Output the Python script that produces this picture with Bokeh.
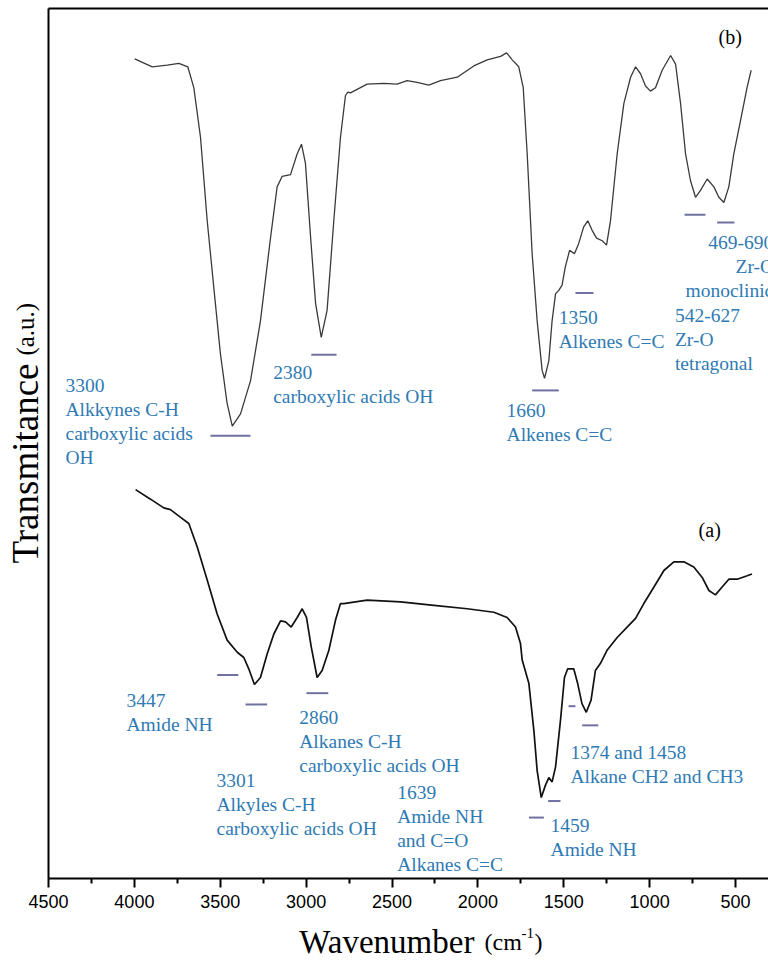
import math
from bokeh.plotting import figure
from bokeh.models import Range1d, FixedTicker, LinearAxis, ColumnDataSource
from bokeh.core.properties import value
from bokeh.embed import file_html
from bokeh.resources import INLINE

# FTIR spectrum (b): wavenumber (cm-1) and transmittance (a.u.)
wn_b = [3998, 3896, 3809, 3741, 3689, 3654, 3615, 3576, 3538, 3499, 3460, 3430,
        3382, 3324, 3266, 3207, 3169, 3140, 3091, 3052, 3027, 3004, 2974, 2945,
        2912, 2878, 2839, 2800, 2771, 2757, 2742, 2645, 2548, 2470, 2412, 2354,
        2286, 2218, 2120, 2024, 1946, 1868, 1833, 1800, 1762, 1736, 1713, 1684,
        1655, 1626, 1612, 1587, 1568, 1548, 1529, 1510, 1491, 1466, 1438, 1413,
        1384, 1360, 1335, 1309, 1276, 1251, 1228, 1189, 1150, 1111, 1082, 1053,
        1024, 995, 966, 927, 878, 849, 820, 791, 762, 733, 704, 665, 626, 597,
        568, 539, 510, 471, 432, 409]
tr_b = [94.2, 93.3, 93.5, 93.7, 93.3, 90.9, 85.2, 75.6, 68.0, 60.3, 54.6, 52.0,
        53.4, 57.2, 64.1, 73.7, 79.5, 80.7, 80.9, 83.3, 84.4, 82.2, 73.7, 66.1,
        62.2, 65.3, 75.6, 85.2, 90.0, 90.4, 90.3, 91.3, 91.4, 91.3, 91.7, 91.5,
        91.2, 91.7, 92.1, 93.4, 94.1, 94.5, 94.9, 94.1, 93.3, 90.9, 83.3, 71.8,
        64.1, 58.4, 57.5, 59.5, 64.1, 67.2, 67.6, 68.2, 70.3, 72.2, 71.8, 73.0,
        74.9, 75.6, 74.5, 73.6, 73.3, 72.8, 75.6, 83.3, 89.1, 92.1, 93.3, 92.5,
        91.1, 90.5, 90.9, 92.9, 94.6, 93.6, 89.1, 83.3, 80.2, 78.3, 79.1, 80.4,
        79.5, 78.3, 77.7, 79.5, 83.3, 87.1, 91.0, 92.9]

# FTIR spectrum (a)
wn_a = [3993, 3906, 3829, 3790, 3731, 3683, 3634, 3576, 3518, 3460, 3401, 3363,
        3334, 3301, 3266, 3227, 3188, 3149, 3120, 3087, 3052, 3023, 2998, 2970,
        2936, 2907, 2868, 2829, 2800, 2781, 2645, 2450, 2256, 2062, 1907, 1830,
        1781, 1752, 1742, 1703, 1674, 1655, 1631, 1607, 1587, 1568, 1548, 1519,
        1496, 1477, 1442, 1419, 1394, 1369, 1341, 1316, 1287, 1249, 1189, 1131,
        1082, 1034, 975, 917, 859, 801, 743, 694, 655, 617, 578, 539, 490, 432, 404]
tr_a = [44.7, 43.6, 42.6, 42.4, 41.5, 40.8, 38.1, 34.3, 30.4, 27.4, 26.0, 25.4,
        24.1, 22.3, 23.1, 25.8, 28.1, 29.6, 29.5, 28.9, 30.0, 31.0, 30.0, 26.6,
        23.1, 23.9, 26.2, 29.7, 31.6, 31.6, 32.0, 31.8, 31.4, 31.0, 30.6, 30.0,
        28.9, 27.0, 25.1, 22.4, 17.0, 12.4, 9.3, 10.7, 11.6, 11.1, 12.8, 18.2,
        23.1, 24.1, 24.1, 22.4, 20.1, 19.1, 20.5, 23.9, 24.7, 26.2, 27.7, 28.9,
        29.9, 31.6, 33.5, 35.4, 36.4, 36.4, 35.8, 34.6, 33.1, 32.6, 33.5, 34.4,
        34.4, 34.8, 35.0]

# band markers: (start wavenumber, end wavenumber, level)
marks_b = [(3557, 3324, 50.9), (2970, 2823, 60.2), (1684, 1529, 56.1),
           (1432, 1327, 67.3), (797, 675, 76.3), (607, 506, 75.4)]
marks_a = [(3518, 3395, 23.4), (3353, 3227, 20.0), (2998, 2871, 21.3),
           (1472, 1432, 19.8), (1393, 1299, 17.6), (1591, 1519, 8.9),
           (1703, 1616, 7.0)]

# band assignments: anchor (wavenumber, level) and text lines
notes = [
    (4401, 56.7, ["3300", "Alkkynes C-H", "carboxylic acids", "OH"]),
    (3192, 58.2, ["2380", "carboxylic acids OH"]),
    (1833, 53.8, ["1660", "Alkenes C=C"]),
    (1529, 64.5, ["1350", "Alkenes C=C"]),
    (853, 64.7, ["542-627", "Zr-O", "tetragonal"]),
    (659, 73.1, ["469-690"]),
    (500, 70.3, ["Zr-O"]),
    (791, 67.6, ["monoclinic"]),
    (4046, 20.5, ["3447", "Amide NH"]),
    (3040, 18.5, ["2860", "Alkanes C-H", "carboxylic acids OH"]),
    (3522, 11.3, ["3301", "Alkyles C-H", "carboxylic acids OH"]),
    (2470, 9.9, ["1639", "Amide NH", "and C=O", "Alkanes C=C"]),
    (1461, 14.5, ["1374 and 1458", "Alkane CH2 and CH3"]),
    (1577, 6.1, ["1459", "Amide NH"]),
]
panel_tags = [(599, 96.7, "(b)"), (715, 40.0, "(a)")]

major_ticks = [4500, 4000, 3500, 3000, 2500, 2000, 1500, 1000, 500]
minor_ticks = [4250, 3750, 3250, 2750, 2250, 1750, 1250, 750]

X_SPAN = (308, 4500)   # extent of the drawn x axis
Y_SPAN = (0, 100)      # extent of the drawn y axis

SERIF = "Liberation Serif"
BLUE = "#2f7ab4"
MARK = "#6f72a0"
LINE_STEP = 24 / 8.7  # one text line, in transmittance units

# the frame fills the whole canvas; axes are pinned at fixed data locations
p = figure(width=768, height=960, output_backend="svg", toolbar_location=None,
           x_range=Range1d(4779.5, 308), y_range=Range1d(-9.43, 100.92),
           x_axis_location=None, y_axis_location=None,
           min_border=0)
p.outline_line_color = None
p.grid.visible = False
p.background_fill_color = "white"
p.border_fill_color = "white"

xa = LinearAxis(fixed_location=Y_SPAN[0], bounds=X_SPAN,
                ticker=FixedTicker(ticks=major_ticks, minor_ticks=minor_ticks))
xa.axis_line_width = 2
xa.axis_line_color = "black"
xa.major_tick_line_width = 2
xa.minor_tick_line_width = 2
xa.major_tick_in = 0
xa.major_tick_out = 9
xa.minor_tick_in = 0
xa.minor_tick_out = 5
xa.major_label_standoff = 8
xa.major_label_text_font = "Liberation Sans"
xa.major_label_text_font_size = "18px"
xa.major_label_text_color = "black"
p.add_layout(xa, "below")


def bare_axis(loc, bounds, side):
    ax = LinearAxis(fixed_location=loc, bounds=bounds, ticker=FixedTicker(ticks=[]))
    ax.axis_line_width = 2
    ax.axis_line_color = "black"
    ax.major_tick_out = 0
    ax.major_tick_in = 0
    ax.minor_tick_out = 0
    ax.minor_tick_in = 0
    ax.major_label_text_font_size = "0px"
    p.add_layout(ax, side)


bare_axis(X_SPAN[1], Y_SPAN, "left")    # left frame line
bare_axis(Y_SPAN[1], X_SPAN, "above")   # top frame line

p.line(wn_b, tr_b, line_color="#3a3a3a", line_width=1.3)
p.line(wn_a, tr_a, line_color="#111111", line_width=1.7)

for marks in (marks_b, marks_a):
    p.segment(x0=[m[0] for m in marks], x1=[m[1] for m in marks],
              y0=[m[2] for m in marks], y1=[m[2] for m in marks],
              line_color=MARK, line_width=2)

tx, ty, tt = [], [], []
for wx, lvl, lines in notes:
    for i, s in enumerate(lines):
        tx.append(wx)
        ty.append(lvl - i * LINE_STEP)
        tt.append(s)
src = ColumnDataSource(dict(x=tx, y=ty, text=tt))
p.text(x="x", y="y", text="text", source=src, text_font=value(SERIF),
       text_font_size="19.5px", text_color=BLUE, text_align="left",
       text_baseline="middle")

p.text(x=[t[0] for t in panel_tags], y=[t[1] for t in panel_tags],
       text=[t[2] for t in panel_tags], text_font=value(SERIF),
       text_font_size="20px", text_color="black", text_align="left",
       text_baseline="middle")


def title_part(x, y, text, size, angle=0.0):
    """One piece of an axis title, placed beside the axis in data coordinates."""
    p.text(x=[x], y=[y], text=[text], angle=angle, text_font=value(SERIF),
           text_font_size=size, text_color="black", text_align="left",
           text_baseline="alphabetic")


# x title: "Wavenumber (cm-1)" with a raised exponent
title_part(3040, -7.36, "Wavenumber", "33px")
title_part(1961, -7.36, "(cm", "24px")
title_part(1746, -6.32, "-1", "15px")
title_part(1670, -7.36, ")", "24px")
# y title, reading upwards
title_part(4634, 36.2, "Transmitance", "37px", math.pi / 2)
title_part(4634, 60.1, "(a.u.)", "25px", math.pi / 2)

open("out.html", "w").write(file_html(p, INLINE))
